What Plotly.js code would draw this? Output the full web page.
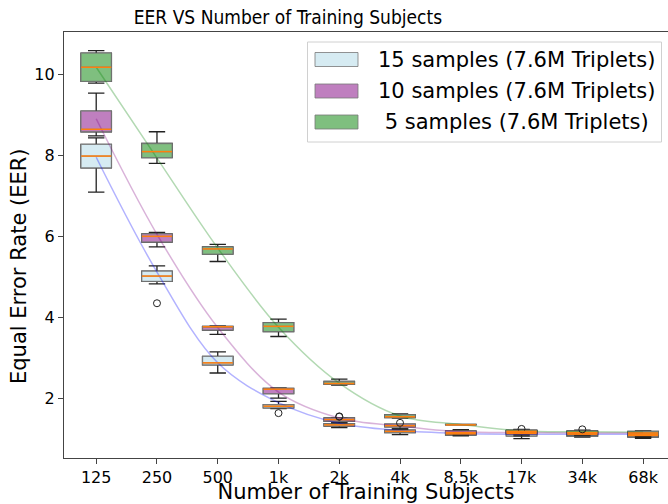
<!DOCTYPE html>
<html>
<head>
<meta charset="utf-8">
<script src="https://cdn.plot.ly/plotly-3.0.1.min.js"></script>
<style>html,body{margin:0;padding:0;background:#fff;}#chart{width:668px;height:504px;}</style>
</head>
<body>
<div id="chart"></div>
<script>
// Categories (number of training subjects)
var categories = ["125", "250", "500", "1k", "2k", "4k", "8.5k", "17k", "34k", "68k"];
var positions = [0, 1, 2, 3, 4, 5, 6, 7, 8, 9];

// 15 samples (7.6M Triplets)
var s15_low = [7.09, 4.83, 2.63, 1.75, 1.28, 1.11, 1.08, 1.01, 1.05, 1.02];
var s15_q1  = [7.69, 4.89, 2.83, 1.77, 1.32, 1.16, 1.10, 1.08, 1.07, 1.05];
var s15_med = [7.98, 5.02, 2.88, 1.81, 1.35, 1.19, 1.13, 1.14, 1.12, 1.09];
var s15_q3  = [8.27, 5.14, 3.04, 1.85, 1.38, 1.22, 1.17, 1.20, 1.17, 1.13];
var s15_high= [8.43, 5.27, 3.15, 1.93, 1.42, 1.25, 1.20, 1.22, 1.20, 1.16];
var s15_curve = [7.95, 5.12, 2.88, 1.90, 1.39, 1.21, 1.14, 1.12, 1.12, 1.12];
var s15_out_x = ["250", "1k", "17k"];
var s15_out_y = [4.35, 1.64, 1.25];

// 10 samples (7.6M Triplets)
var s10_low = [8.48, 5.74, 3.58, 2.01, 1.40, 1.25, 1.10, 1.08, 1.08, 1.04];
var s10_q1  = [8.58, 5.86, 3.69, 2.12, 1.44, 1.30, 1.13, 1.12, 1.10, 1.08];
var s10_med = [8.64, 6.00, 3.77, 2.23, 1.48, 1.33, 1.16, 1.17, 1.15, 1.12];
var s10_q3  = [9.09, 6.06, 3.78, 2.25, 1.52, 1.37, 1.20, 1.21, 1.19, 1.16];
var s10_high= [9.53, 6.10, 3.79, 2.26, 1.53, 1.37, 1.23, 1.23, 1.21, 1.19];
var s10_curve = [8.90, 6.05, 3.75, 2.16, 1.52, 1.32, 1.18, 1.16, 1.15, 1.15];
var s10_out_x = ["2k", "2k", "4k"];
var s10_out_y = [1.55, 1.56, 1.40];

// 5 samples (7.6M Triplets)
var s5_low = [9.78, 7.80, 5.38, 3.53, 2.33, 1.52, 1.35, 1.12, 1.10, 1.06];
var s5_q1  = [9.82, 7.94, 5.56, 3.65, 2.35, 1.53, 1.35, 1.15, 1.13, 1.10];
var s5_med = [10.17, 8.09, 5.69, 3.78, 2.37, 1.55, 1.35, 1.19, 1.16, 1.15];
var s5_q3  = [10.52, 8.29, 5.74, 3.87, 2.42, 1.60, 1.36, 1.22, 1.20, 1.19];
var s5_high= [10.58, 8.58, 5.80, 3.96, 2.48, 1.62, 1.36, 1.24, 1.22, 1.20];
var s5_curve = [10.17, 7.93, 5.71, 3.76, 2.38, 1.57, 1.36, 1.20, 1.18, 1.17];
var s5_out_x = ["34k"];
var s5_out_y = [1.24];

var seriesNames = ["15 samples (7.6M Triplets)", "10 samples (7.6M Triplets)", "\u00a05 samples (7.6M Triplets)"];
var fills = ["#d6ebf2", "#bf7fbf", "#7fbf7f"];
var curveColors = ["rgba(0,0,255,0.3)", "rgba(128,0,128,0.3)", "rgba(0,128,0,0.3)"];

var series = [
  {low: s15_low, q1: s15_q1, med: s15_med, q3: s15_q3, high: s15_high, curve: s15_curve, ox: s15_out_x, oy: s15_out_y},
  {low: s10_low, q1: s10_q1, med: s10_med, q3: s10_q3, high: s10_high, curve: s10_curve, ox: s10_out_x, oy: s10_out_y},
  {low: s5_low, q1: s5_q1, med: s5_med, q3: s5_q3, high: s5_high, curve: s5_curve, ox: s5_out_x, oy: s5_out_y}
];

function posOf(label) { return positions[categories.indexOf(label)]; }

var boxTraces = [], scatterTraces = [];
series.forEach(function(s, i) {
  boxTraces.push({
    type: "box", x: positions, q1: s.q1, median: s.med, q3: s.q3,
    lowerfence: s.low, upperfence: s.high, width: 0.5, whiskerwidth: 0.54,
    boxpoints: false, line: {color: "#222", width: 1.3}, fillcolor: "rgba(0,0,0,0)",
    showlegend: false, hoverinfo: "skip"
  });
  boxTraces.push({
    type: "box", x: positions, q1: s.q1, median: s.med, q3: s.q3,
    lowerfence: s.q1, upperfence: s.q3, width: 0.5, whiskerwidth: 0,
    boxpoints: false, line: {color: "rgba(120,120,120,0.8)", width: 1.3}, fillcolor: fills[i],
    name: seriesNames[i], showlegend: false
  });
});
series.forEach(function(s, i) {
  scatterTraces.push({
    type: "scatter", mode: "lines", x: positions, y: s.curve,
    line: {color: curveColors[i], width: 1.5, shape: "spline", smoothing: 1},
    showlegend: false, hoverinfo: "skip"
  });
});
series.forEach(function(s, i) {
  scatterTraces.push({
    type: "scatter", mode: "markers", x: positions, y: s.med,
    marker: {symbol: "line-ew", size: 21.5, line: {color: "#ff7f0e", width: 1.5}},
    showlegend: false, hoverinfo: "skip"
  });
  scatterTraces.push({
    type: "scatter", mode: "markers", x: s.ox.map(posOf), y: s.oy,
    marker: {symbol: "circle-open", size: 7, color: "#222", line: {width: 1}},
    showlegend: false, hoverinfo: "skip"
  });
});

// pixel -> paper helpers for the hand-drawn legend (plot area 64..668 x 32..458)
var PL = 64, PW = 604, PT = 32, PH = 426;
function px(v) { return (v - PL) / PW; }
function py(v) { return 1 - (v - PT) / PH; }

var font = "DejaVu Sans, Verdana, sans-serif";
var shapes = [{
  type: "rect", xref: "paper", yref: "paper", x0: px(307.5), x1: px(661.5), y0: py(142), y1: py(42),
  line: {color: "#d0d0d0", width: 1}, fillcolor: "rgba(255,255,255,0.85)", layer: "above"
}];
var annotations = [];
var rowCenters = [59.5, 91, 122];
var textX = [376, 376, 376];
seriesNames.forEach(function(n, i) {
  shapes.push({
    type: "rect", xref: "paper", yref: "paper", x0: px(315), x1: px(358), y0: py(rowCenters[i] + 7), y1: py(rowCenters[i] - 7),
    line: {color: "rgba(120,120,120,0.8)", width: 1}, fillcolor: fills[i], layer: "above"
  });
  annotations.push({
    xref: "paper", yref: "paper", x: px(textX[i]), y: py(rowCenters[i]), xanchor: "left", yanchor: "middle",
    text: n, showarrow: false, font: {family: font, size: 21, color: "#000"}
  });
});
annotations.push({
  xref: "paper", yref: "paper", x: px(19), y: py(266), xanchor: "center", yanchor: "middle", textangle: -90,
  text: "Equal Error Rate (EER)", showarrow: false, font: {family: font, size: 21, color: "#000"}
});

var layout = {
  width: 668, height: 504,
  margin: {l: 64, r: 0, t: 32, b: 46},
  paper_bgcolor: "#fff", plot_bgcolor: "#fff",
  boxmode: "overlay",
  showlegend: false,
  title: {text: "EER VS Number of Training Subjects", font: {family: "DejaVu Sans Condensed, DejaVu Sans, sans-serif", size: 19, color: "#000"},
          xref: "container", x: 0.431, xanchor: "center", yref: "container", y: 0.965, yanchor: "middle"},
  xaxis: {
    range: [-0.53, 9.41], tickmode: "array", tickvals: positions, ticktext: categories,
    showgrid: false, zeroline: false, showline: true, linecolor: "#444", linewidth: 1.2, mirror: true,
    ticks: "outside", ticklen: 5, tickcolor: "#444", tickfont: {family: font, size: 16, color: "#000"},
    title: {text: "Number of Training Subjects", font: {family: font, size: 21, color: "#000"}, standoff: 9}
  },
  yaxis: {
    range: [0.533, 11.04], tickmode: "array", tickvals: [2, 4, 6, 8, 10], ticktext: ["2", "4", "6", "8", "10"],
    showgrid: false, zeroline: false, showline: true, linecolor: "#444", linewidth: 1.2,
    ticks: "outside", ticklen: 5, tickcolor: "#444", tickfont: {family: font, size: 16, color: "#000"}
  },
  shapes: shapes,
  annotations: annotations
};

Plotly.newPlot("chart", boxTraces.concat(scatterTraces), layout, {staticPlot: true, displayModeBar: false});
</script>
</body>
</html>
